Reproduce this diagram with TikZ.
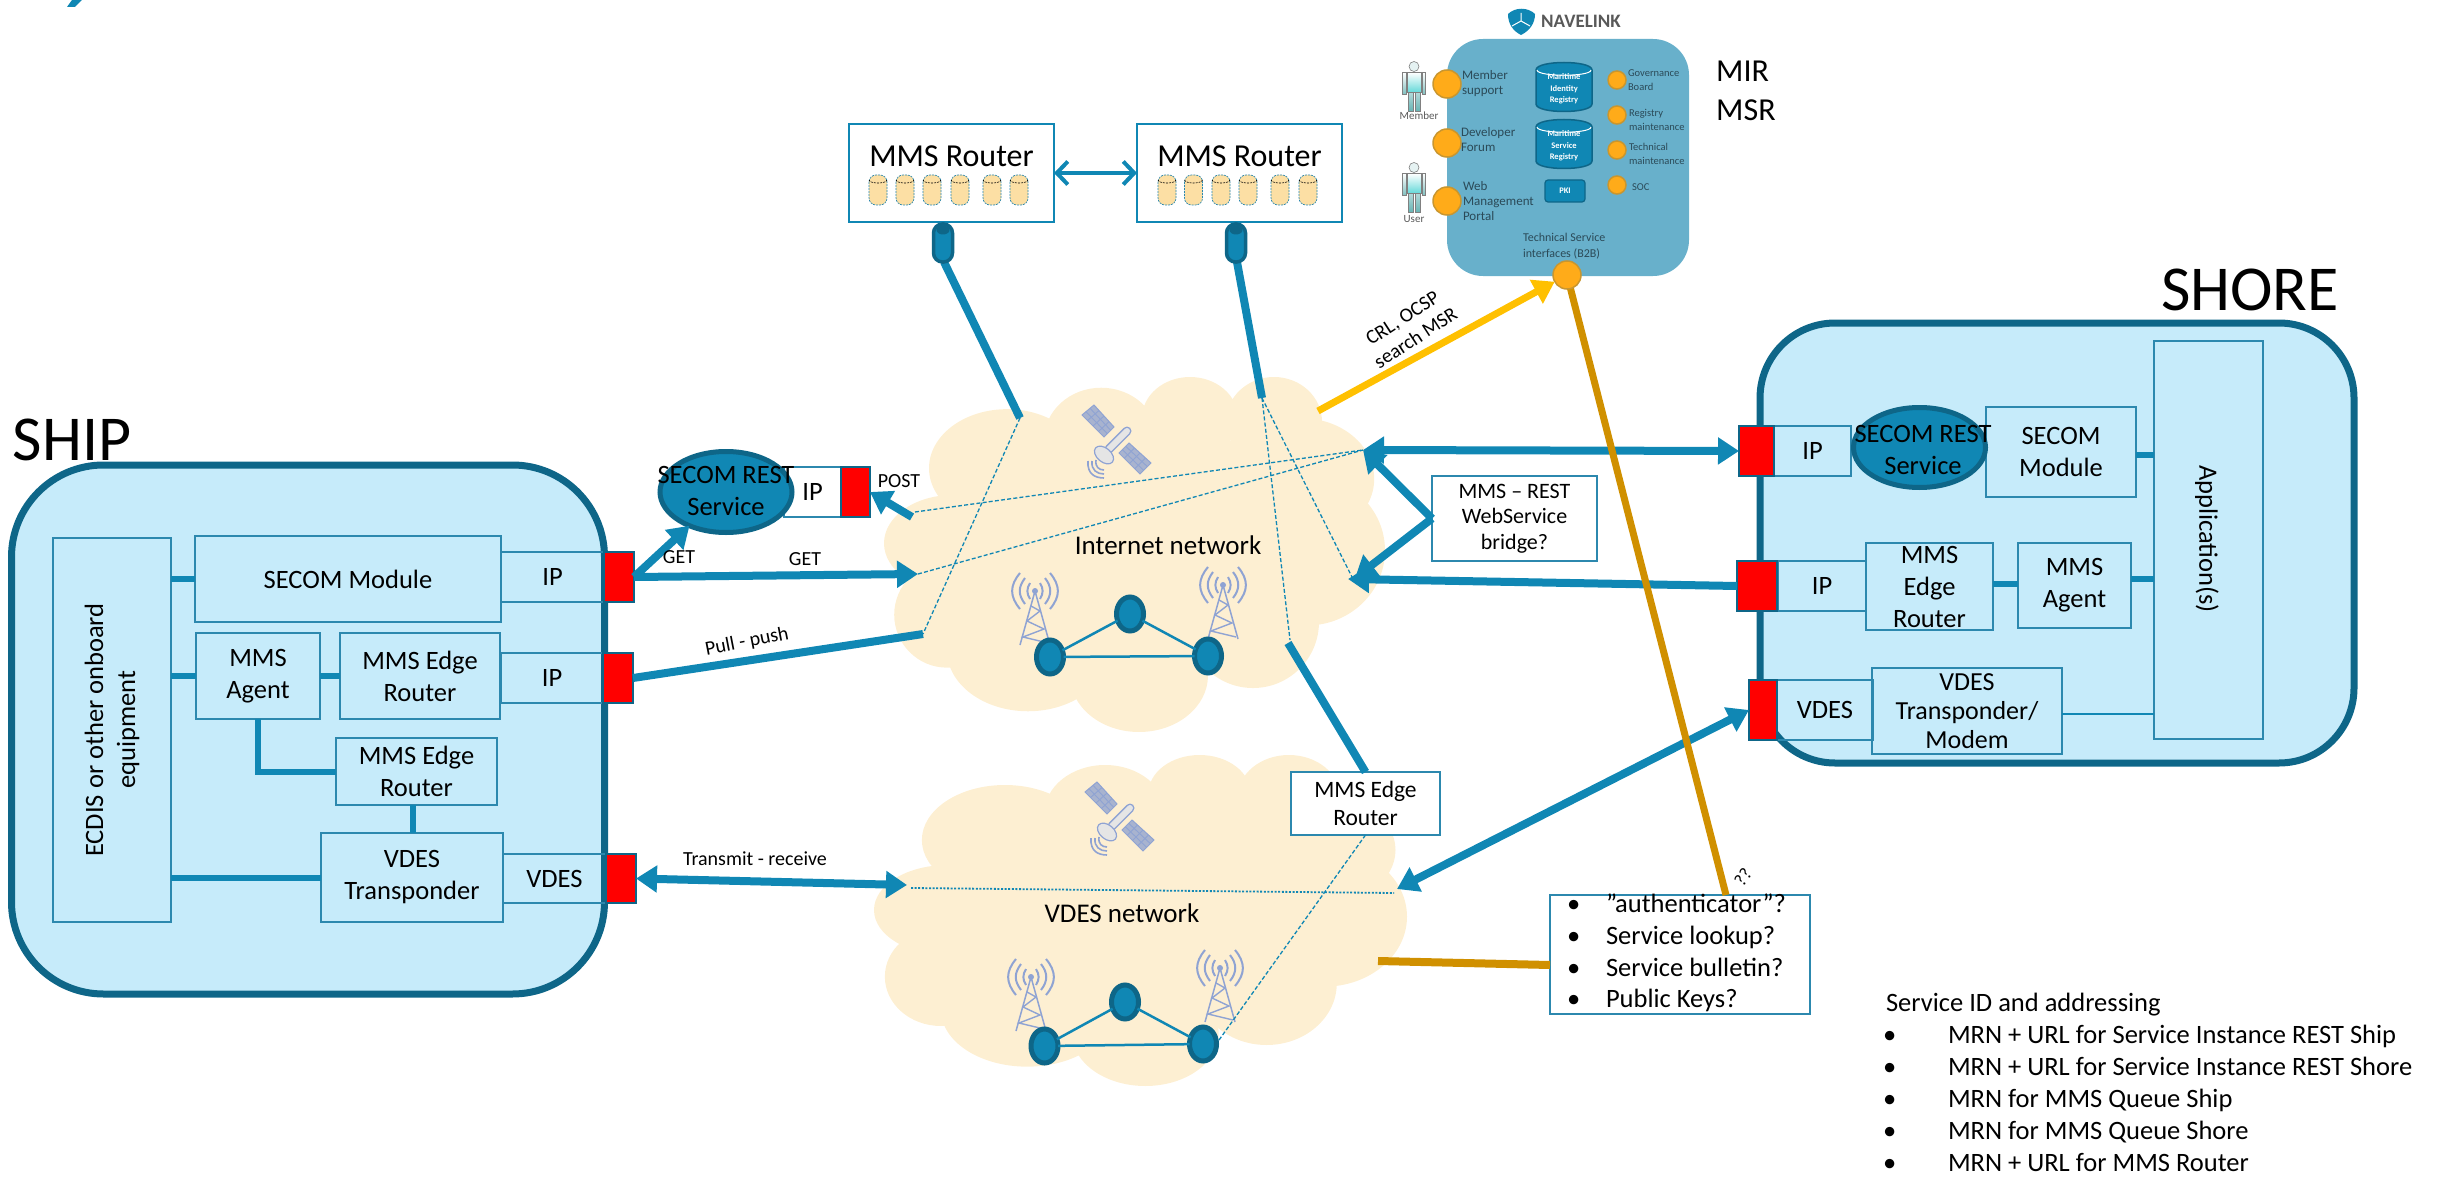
\documentclass[tikz,border=0pt]{standalone}
\usepackage{fontspec}
\setmainfont{Carlito}
\usetikzlibrary{arrows.meta,calc,shapes.geometric}
\definecolor{blu}{HTML}{1087B4}
\definecolor{dblu}{HTML}{0E6688}
\definecolor{skyb}{HTML}{C6EBFA}
\definecolor{thin}{HTML}{2C88AE}
\definecolor{cloudc}{HTML}{FDEFD2}
\definecolor{canc}{HTML}{FCDFA4}
\definecolor{tanl}{HTML}{D09000}
\definecolor{yell}{HTML}{FFC000}
\definecolor{panelc}{HTML}{68B0CB}
\definecolor{orng}{HTML}{FFAB19}
\definecolor{orngd}{HTML}{C9962F}
\definecolor{sky2}{HTML}{8FA3D3}
\definecolor{sat}{HTML}{A8B3CF}
\definecolor{inkn}{HTML}{2B4A58}
\newcommand\fa{\fontsize{26.5}{32}\selectfont}
\newcommand\fb{\fontsize{26}{29}\selectfont}
\newcommand\fc{\fontsize{32}{32}\selectfont}
\newcommand\fd{\fontsize{22}{25.5}\selectfont}
\newcommand\fdd{\fontsize{23.5}{28}\selectfont}
\newcommand\fe{\fontsize{20}{24}\selectfont}
\newcommand\fg{\fontsize{10.5}{13.8}\selectfont}
\newcommand\fh{\fontsize{8.5}{11.5}\bfseries\selectfont}
\newcommand\fxl{\fontsize{64}{64}\selectfont}
\newcommand\flst{\fontsize{26.5}{32}\selectfont}
\newcommand\fauth{\fontsize{26.5}{31.7}\selectfont}
% box: [style]{name}{x1}{y1}{x2}{y2}{font}{text}
\newcommand\bx[8][]{%
  \node[boxa,#1,minimum width={#5-#3},minimum height={#6-#4}] (#2) at ({(#3+#5)/2},{(#4+#6)/2}) {};
  \if\relax\detokenize{#8}\relax\else
  \node[lbl,font=#7] (#2t) at (#2.center) {#8};
  \fi
}
\newcommand\cloudlobes[4]{%
\begin{scope}[shift={(#1,#2)},xscale=#3/835,yscale=#4/993,shift={(-85,-165)},fill=cloudc]
  \fill (290,420) ellipse [x radius=130,y radius=165];
  \fill (447,340) ellipse [x radius=95,y radius=145];
  \fill (595,280) ellipse [x radius=80,y radius=115];
  \fill (735,290) ellipse [x radius=80,y radius=125];
  \fill (780,450) ellipse [x radius=122,y radius=170];
  \fill (790,650) ellipse [x radius=130,y radius=210];
  \fill (700,850) ellipse [x radius=110,y radius=185];
  \fill (510,1000) ellipse [x radius=115,y radius=158];
  \fill (325,930) ellipse [x radius=135,y radius=170];
  \fill (190,830) ellipse [x radius=88,y radius=148];
  \fill (200,630) ellipse [x radius=115,y radius=135];
  \fill (500,650) ellipse [x radius=340,y radius=350];
\end{scope}}
\tikzset{
  boxa/.style={draw=thin,line width=1.8pt,inner sep=0pt,outer sep=0pt,rectangle},
  lbl/.style={inner sep=0pt,outer sep=0pt,align=center,text=black},
  wht/.style={fill=white},
  redb/.style={fill=red,draw=dblu,line width=1.2pt},
  link/.style={draw=blu,line width=6pt},
  thinlink/.style={draw=blu,line width=2.5pt},
  fat/.style={draw=blu,line width=8pt},
  tip/.style={-{Triangle[width=26pt,length=21pt]}},
  tips/.style={{Triangle[width=26pt,length=21pt]}-{Triangle[width=26pt,length=21pt]}},
  dsh/.style={draw=blu,line width=1.3pt,dash pattern=on 4pt off 2.2pt},
  dot2/.style={draw=blu,line width=1.8pt,dash pattern=on 2pt off 1.6pt},
  peer/.style={ellipse,fill=blu,draw=dblu,line width=5pt,minimum width=27pt,minimum height=34pt,inner sep=0pt,outer sep=0pt},
  rest/.style={ellipse,fill=blu,draw=dblu,line width=5pt,inner sep=0pt,outer sep=0pt},
  orb/.style={circle,fill=orng,draw=orngd,line width=1.5pt,inner sep=0pt,outer sep=0pt},
  navt/.style={inner sep=0pt,outer sep=0pt,align=left,anchor=west,text=inkn},
  plugn/.style={rectangle,rounded corners=9pt,fill=blu,draw=dblu,line width=3.5pt,minimum width=19pt,minimum height=38pt,inner sep=0pt,outer sep=0pt},
  canpic/.pic={
    \path[fill=canc,draw=thin,line width=.7pt,dash pattern=on 2pt off 1pt,rounded corners=7pt] (-9,-15) rectangle (9,15);
    \draw[thin,line width=.6pt,dash pattern=on 2pt off 1pt] (-9,-10) .. controls (-8,-6) and (8,-6) .. (9,-10);
  },
  regpic/.pic={
    \path[fill=blu,draw=dblu,line width=1.5pt] (-28,-17) .. controls (-28,-27) and (28,-27) .. (28,-17) -- (28,17) .. controls (28,27) and (-28,27) .. (-28,17) -- cycle;
    \draw[white,line width=1pt] (-27,-17) .. controls (-27,-10) and (27,-10) .. (27,-17);
  },
  personpic/.pic={
    \path[draw=gray,line width=.6pt,top color=white,bottom color=white!55!cyan!70!teal] (-7,-14) rectangle (7,6);
    \path[draw=gray,line width=.6pt,top color=white,bottom color=white!50!teal] (-11.5,-14) rectangle (-8,8);
    \path[draw=gray,line width=.6pt,top color=white,bottom color=white!50!teal] (8,-14) rectangle (11.5,8);
    \path[draw=gray,line width=.6pt,top color=white!70!teal,bottom color=white!40!teal] (-6,6) rectangle (-1,25);
    \path[draw=gray,line width=.6pt,top color=white!70!teal,bottom color=white!40!teal] (1,6) rectangle (6,25);
    \path[draw=gray,line width=.6pt,fill=white!90!teal] (0,-20) circle [radius=5];
  },
  towerpic/.pic={
    \draw[sky2,line width=1.5pt] (-15,54) -- (0,0) -- (15,54);
    \draw[sky2,line width=1.4pt] (-4,15) -- (5,20) -- (-8,30) -- (9,38) -- (-12,46) -- (13,52);
    \foreach \a/\b in {5/8,10/13,15/18}{
      \draw[sky2,line width=2pt] (-\a,-\b) .. controls (-\a-\a*.7,-\b*.3) and (-\a-\a*.7,\b*.3) .. (-\a,\b);
      \draw[sky2,line width=2pt] (\a,-\b) .. controls (\a+\a*.7,-\b*.3) and (\a+\a*.7,\b*.3) .. (\a,\b);
    }
    \fill[sky2] (0,0) circle [radius=3];
  },
  satpic/.pic={
    \coordinate (pa) at (-23,-35); \coordinate (pb) at (-3,-13); \coordinate (pc) at (-13,-3); \coordinate (pd) at (-35,-25);
    \path[fill=sat,draw=sky2,line width=1pt] (pa) -- (pb) -- (pc) -- (pd) -- cycle;
    \foreach \t in {.25,.5,.75}{\draw[sky2,line width=.9pt] ($(pa)!\t!(pb)$) -- ($(pd)!\t!(pc)$);}
    \foreach \t in {.33,.67}{\draw[sky2,line width=.9pt] ($(pa)!\t!(pd)$) -- ($(pb)!\t!(pc)$);}
    \coordinate (qa) at (12,3); \coordinate (qb) at (34,23); \coordinate (qc) at (23,34); \coordinate (qd) at (2,13);
    \path[fill=sat,draw=sky2,line width=1pt] (qa) -- (qb) -- (qc) -- (qd) -- cycle;
    \foreach \t in {.25,.5,.75}{\draw[sky2,line width=.9pt] ($(qa)!\t!(qb)$) -- ($(qd)!\t!(qc)$);}
    \foreach \t in {.33,.67}{\draw[sky2,line width=.9pt] ($(qa)!\t!(qd)$) -- ($(qb)!\t!(qc)$);}
    \draw[sky2,line width=9pt,line cap=round] (-8,9) -- (10,-9);
    \draw[white!80!gray,line width=6pt,line cap=round] (-8,9) -- (10,-9);
    \path[fill=white!80!gray,draw=sky2,line width=1.2pt,rotate around={-40:(-13,15)}] (-13,15) ellipse [x radius=11,y radius=7];
    \draw[sky2,line width=1.6pt] (-21,20) .. controls (-22,27) and (-18,30) .. (-13,30);
    \draw[sky2,line width=1.6pt] (-25,21) .. controls (-26,30) and (-20,34) .. (-13,34);
    \draw[sky2,line width=1.6pt] (-29,21) .. controls (-30,34) and (-22,38) .. (-13,38);
  }
}
\begin{document}
\begin{tikzpicture}[x=1pt,y=-1pt]
\useasboundingbox (0,0) rectangle (2444,1177);
% corner fragment
\fill[blu] (72,0) -- (82,0) -- (75,7) -- (67,7) -- cycle;
% clouds
\cloudlobes{884}{377}{501}{355}
\cloudlobes{874}{755}{533}{331}
% named free ends
\coordinate (c1) at (1020,418);
\coordinate (c2) at (1262,398);
\coordinate (c3) at (923,634);
\coordinate (c4) at (1290,640);
\coordinate (c5) at (1352,577);
\coordinate (c6) at (915,512);
\coordinate (c7) at (1363,450);
\coordinate (c8) at (918,574);
\coordinate (c9) at (1355,578);
\coordinate (c10) at (911,888);
\coordinate (c11) at (1394,893);
\coordinate (c12) at (1219,1040);
\coordinate (c13) at (1318,411);
\coordinate (c14) at (1378,961);
\coordinate (c15) at (1348,579);
\coordinate (c16) at (1288,643);
\coordinate (c17) at (912,517);
\coordinate (c18) at (907,885);
\coordinate (c19) at (1397,889);
% SHIP
\node[rectangle,draw=dblu,fill=skyb,line width=7pt,rounded corners=92pt,minimum width=593pt,minimum height=529pt,inner sep=0pt] (ship) at (308,729.5) {};
\node[lbl,font=\fxl] (shiplabel) at (72,440) {SHIP};
\bx{ecdis}{53}{538}{171}{922}{\fa}{}
\node[lbl,rotate=90,font=\fa] (ecdistxt) at (112,730) {ECDIS or other onboard\\equipment};
\bx{smod}{195}{536}{501}{622}{\fa}{SECOM Module}
\bx{ipa}{501}{552}{604}{602}{\fa}{IP}
\bx[redb]{reda}{604}{552}{634}{602}{\fa}{}
\bx{agent}{196}{633}{320}{719}{\fa}{MMS\\Agent}
\bx{edgea}{340}{633}{500}{719}{\fa}{MMS Edge\\Router}
\bx{ipb}{501}{653}{603}{703}{\fa}{IP}
\bx[redb]{redb2}{603}{653}{633}{703}{\fa}{}
\bx{edgeb}{336}{738}{497}{805}{\fa}{MMS Edge\\Router}
\bx{vtr}{321}{833}{503}{922}{\fa}{VDES\\Transponder}
\bx{vds}{503}{854}{606}{903}{\fa}{VDES}
\bx[redb]{redc}{606}{854}{636}{903}{\fa}{}
\draw[link] (ecdis.east |- smod.west) -- (smod.west);
\draw[link] (ecdis.east |- agent.west) -- (agent.west);
\draw[link] (agent.east) -- (edgea.west);
\draw[link] (agent.south) |- (edgeb.west);
\draw[link] ([xshift=-4]edgeb.south) -- ([xshift=-4]edgeb.south |- vtr.north);
\draw[link] (ecdis.east |- vtr.west) -- (vtr.west);
% SHORE
\node[rectangle,draw=dblu,fill=skyb,line width=7pt,rounded corners=75pt,minimum width=594pt,minimum height=440pt,inner sep=0pt] (shore) at (2057,543) {};
\node[lbl,font=\fxl] (shorelabel) at (2250,290) {SHORE};
\bx{app}{2154}{341}{2263}{739}{\fa}{}
\node[lbl,rotate=-90,font=\fa] (apptxt) at (2207,539) {Application(s)};
\bx{smodr}{1986}{407}{2136}{497}{\fa}{SECOM\\Module}
\bx{ipr}{1774}{426}{1851}{476}{\fa}{IP}
\bx[redb]{redr}{1739}{426}{1774}{476}{\fa}{}
\bx{ipr2}{1778}{561}{1866}{611}{\fa}{IP}
\bx[redb]{redr2}{1737}{561}{1777}{611}{\fa}{}
\bx{edger}{1866}{543}{1993}{630}{\fa}{MMS\\Edge\\Router}
\bx{agentr}{2018}{543}{2131}{628}{\fa}{MMS\\Agent}
\bx{vdsr}{1777}{680}{1873}{740}{\fa}{VDES}
\bx[redb]{redr3}{1749}{680}{1777}{740}{\fa}{}
\bx{vtrr}{1872}{668}{2062}{754}{\fb}{VDES\\Transponder/\\Modem}
\draw[link] (smodr.east |- 0,455) -- (app.west |- 0,455);
\draw[link] (edger.east |- 0,584) -- (agentr.west |- 0,584);
\draw[link] (agentr.east |- 0,579) -- (app.west |- 0,579);
\draw[thinlink] (vtrr.east |- 0,714) -- (app.west |- 0,714);
\node[rest,minimum width=132pt,minimum height=80pt] (restr) at (1919.5,447.5) {};
\node[lbl,font=\fa] (restrt) at (1923,450) {SECOM REST\\Service};
% left REST
\bx[wht]{ipl}{784}{467}{841}{517}{\fa}{IP}
\bx[redb]{redl}{841}{467}{870}{517}{\fa}{}
\node[rest,minimum width=132pt,minimum height=81pt] (restl) at (726,492) {};
\node[lbl,font=\fa] (restlt) at (726,491) {SECOM REST\\Service};
% routers
\bx[wht,draw=blu,line width=2.5pt]{rta}{849}{124}{1054}{222}{\fc}{}
\bx[wht,draw=blu,line width=2.5pt]{rtb}{1137}{124}{1342}{222}{\fc}{}
\node[lbl,font=\fc] (rtalabel) at (951.5,156) {MMS Router};
\node[lbl,font=\fc] (rtblabel) at (1239.5,156) {MMS Router};
\foreach \x in {878,905,932,960,992,1019,1167,1193.5,1221,1248,1280,1308}{\pic at (\x,190) {canpic};}
\draw[blu,line width=4pt,{Straight Barb[length=11pt,width=23pt,line width=4pt]}-{Straight Barb[length=11pt,width=23pt,line width=4pt]}] (rta.east) -- (rtb.west);
\draw[fat] (944,262) -- (c1);
\draw[fat] (1237,262) -- (c2);
\node[plugn] (pluga) at (943,243) {};
\node[plugn] (plugb) at (1236,243) {};
\fill[dblu] (943,230) ellipse [x radius=6.5,y radius=4.5];
\fill[dblu] (1236,230) ellipse [x radius=6.5,y radius=4.5];
% dashed
\draw[dsh] (c1) -- (c3);
\draw[dsh] (c2) -- (c4);
\draw[dsh] (c2) -- (c5);
\draw[dsh] (c6) -- (c7);
\draw[dsh] (c8) -- (c7);
\draw[dot2] (c10) -- (c11);
% internet content
\pic at (1117,440) {satpic};
\pic at (1035,591) {towerpic};
\pic at (1223,585) {towerpic};
\node[peer] (pa1) at (1050,657) {};
\node[peer] (pa2) at (1130,614) {};
\node[peer] (pa3) at (1208,656) {};
\draw[thinlink] (pa1) -- (pa2);
\draw[thinlink] (pa2) -- (pa3);
\draw[thinlink] (pa1) -- (pa3);
\node[lbl,font=\fontsize{27}{27}\selectfont] (inet) at (1168,545) {Internet network};
% vdes content
\pic at (1120,817) {satpic};
\pic at (1031,977) {towerpic};
\pic at (1220,968) {towerpic};
\node[peer] (pb1) at (1044.5,1046) {};
\node[peer] (pb2) at (1125,1002) {};
\node[peer] (pb3) at (1203,1044) {};
\draw[thinlink] (pb1) -- (pb2);
\draw[thinlink] (pb2) -- (pb3);
\draw[thinlink] (pb1) -- (pb3);
\node[lbl,font=\fontsize{27}{27}\selectfont] (vnet) at (1122,913) {VDES network};
\bx[wht,line width=2pt]{edgec}{1291}{772}{1440}{835}{\fdd}{MMS Edge\\Router}
\draw[fat] (c16) -- (edgec.north);
\draw[dsh] (edgec.south) -- (c12);
% MMS-REST bridge
\bx[wht,line width=2pt]{bridge}{1432}{476}{1597}{561}{\fd}{MMS -- REST\\WebService\\bridge?}
% connectors
\draw[fat,tip] (reda.east) -- (restl);
\draw[fat,tip] (reda.east) -- (c8);
\draw[fat] (redb2.east) -- (c3);
\draw[fat,tips] (redc.east) -- (c18);
\draw[fat,tip] (c17) -- (redl.east);
\draw[fat,tips] (c7) -- (redr.west);
\draw[fat,tip] (redr2.west) -- (c15);
\draw[fat,tip] (bridge.west) -- (c7);
\draw[fat,tip] (bridge.west) -- (c9);
\draw[fat,tips] (c19) -- (redr3.west);
% labels
\node[lbl,font=\fe] (lga) at (679,557) {GET};
\node[lbl,font=\fe] (lgb) at (805,559) {GET};
\node[lbl,font=\fe] (lpost) at (899,481) {POST};
\node[lbl,font=\fe,rotate=11] (lpp) at (747,642) {Pull - push};
\node[lbl,font=\fe] (ltr) at (755,859) {Transmit - receive};
\node[lbl,font=\fe,rotate=33] (lcrl) at (1409,328) {CRL, OCSP\\search MSR};
% Navelink
\fill[panelc,rounded corners=36pt] (1447,39) rectangle (1689,276);
\path[fill=blu] (1508,14) .. controls (1515,7) and (1528,7) .. (1535,14) .. controls (1535,24) and (1529,31) .. (1521,35) .. controls (1513,31) and (1508,24) .. (1508,14) -- cycle;
\draw[white,line width=1pt] (1521,13) -- (1521,21) -- (1512,26) (1521,21) -- (1530,26);
\node[inner sep=0pt,anchor=west,font=\fontsize{19}{20}\bfseries\selectfont,text=black!65] (navel) at (1541,21) {NAVELINK};
\pic at (1414,86.5) {personpic};
\pic at (1414,187.5) {personpic};
\node[lbl,font=\fontsize{11}{11}\selectfont,text=black!65] (mlabel) at (1419,116) {Member};
\node[lbl,font=\fontsize{11}{11}\selectfont,text=black!65] (ulabel) at (1414,219) {User};
\node[orb,minimum size=28pt] (o1) at (1447,84) {};
\node[orb,minimum size=28pt] (o2) at (1447,143) {};
\node[orb,minimum size=28pt] (o3) at (1447,201) {};
\node[orb,minimum size=18pt] (o4) at (1617,80) {};
\node[orb,minimum size=18pt] (o5) at (1617,115) {};
\node[orb,minimum size=18pt] (o6) at (1617,150) {};
\node[orb,minimum size=18pt] (o7) at (1617,185) {};
\node[navt,font=\fontsize{13}{15}\selectfont] (t1) at (1462,84) {Member\\support};
\node[navt,font=\fontsize{13}{15}\selectfont] (t2) at (1461,140) {Developer\\Forum};
\node[navt,font=\fontsize{13}{15}\selectfont] (t3) at (1463,201) {Web\\Management\\Portal};
\node[navt,font=\fg] (t4) at (1628,80) {Governance\\Board};
\node[navt,font=\fg] (t5) at (1629,120) {Registry\\maintenance};
\node[navt,font=\fg] (t6) at (1629,153.5) {Technical\\maintenance};
\node[navt,font=\fg] (t7) at (1632,187) {SOC};
\node[navt,font=\fontsize{12}{15.5}\selectfont] (t8) at (1523,246) {Technical Service\\interfaces (B2B)};
\pic at (1564,87) {regpic};
\pic at (1564,144) {regpic};
\node[lbl,font=\fh,text=white] (mirt) at (1564,89) {Maritime\\Identity\\Registry};
\node[lbl,font=\fh,text=white] (msrt) at (1564,146) {Maritime\\Service\\Registry};
\node[rectangle,rounded corners=3pt,fill=blu,draw=dblu,line width=1.2pt,minimum width=40pt,minimum height=22pt,inner sep=0pt,font=\fh,text=white] (pki) at (1565,191) {PKI};
% MIR/MSR
\node[inner sep=0pt,anchor=west,font=\fontsize{32}{32}\selectfont] (mir) at (1716,71) {MIR};
\node[inner sep=0pt,anchor=west,font=\fontsize{32}{32}\selectfont] (msr) at (1716,110) {MSR};
% auth box
\bx[wht,line width=2pt]{auth}{1550}{895}{1810}{1014}{\fa}{}
\node[inner sep=0pt,outer sep=0pt,anchor=north west,align=left,font=\fauth] (authl) at (1567,894) {\makebox[39pt][l]{•}"authenticator”?\\\makebox[39pt][l]{•}Service lookup?\\\makebox[39pt][l]{•}Service bulletin?\\\makebox[39pt][l]{•}Public Keys?};
% tan lines, yellow
\draw[tanl,line width=7pt] (1567,275) -- ([xshift=46]auth.north);
\draw[tanl,line width=8pt] (c14) -- ([yshift=-10.5]auth.west);
\node[orb,minimum size=28pt] (tsb) at (1567,275) {};
\draw[yell,line width=7pt,tip] (c13) -- (tsb);
\node[lbl,font=\fontsize{18}{18}\selectfont,rotate=55] (qq) at (1743,877) {??};
% service list
\node[inner sep=0pt,outer sep=0pt,anchor=north west,align=left,font=\flst] (svc) at (1886,993) {Service ID and addressing\\\makebox[62pt][l]{\hspace{-3pt}•}MRN + URL for Service Instance REST Ship\\\makebox[62pt][l]{\hspace{-3pt}•}MRN + URL for Service Instance REST Shore\\\makebox[62pt][l]{\hspace{-3pt}•}MRN for MMS Queue Ship\\\makebox[62pt][l]{\hspace{-3pt}•}MRN for MMS Queue Shore\\\makebox[62pt][l]{\hspace{-3pt}•}MRN + URL for MMS Router};
\end{tikzpicture}
\end{document}
